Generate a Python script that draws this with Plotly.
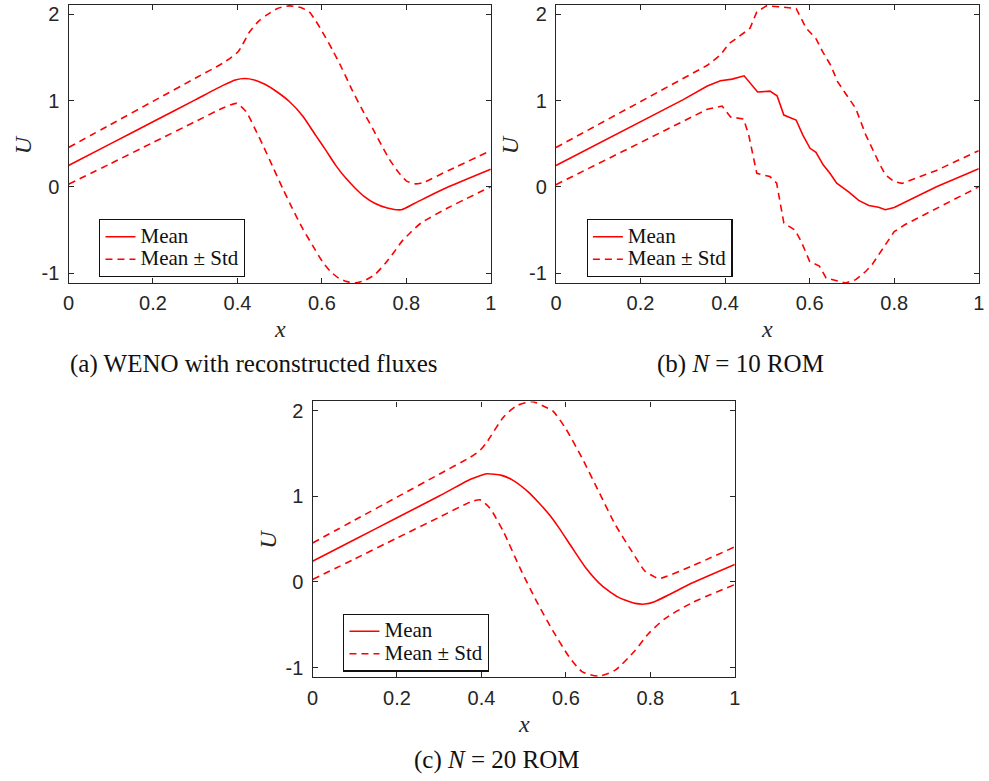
import plotly.graph_objects as go

# ---------------- data ----------------
# (a) WENO with reconstructed fluxes
xa_mean = [0, 0.1, 0.2, 0.3, 0.367, 0.395, 0.4175, 0.44, 0.465, 0.49, 0.523, 0.555, 0.585, 0.61, 0.632,
           0.655, 0.679, 0.7, 0.725, 0.755, 0.788, 0.82, 0.9, 1.0]
ya_mean = [0.247, 0.501, 0.755, 1.009, 1.18, 1.24, 1.257, 1.24, 1.19, 1.115, 0.99, 0.82, 0.60, 0.42, 0.255,
           0.11, -0.016, -0.11, -0.19, -0.245, -0.266, -0.19, 0.0, 0.205]
xa_up = [0, 0.1, 0.2, 0.3, 0.367, 0.402, 0.429, 0.45, 0.468, 0.495, 0.523, 0.55, 0.57, 0.585, 0.601,
         0.625, 0.648, 0.67, 0.694, 0.72, 0.741, 0.76, 0.78, 0.8, 0.82, 0.84, 0.9, 1.0]
ya_up = [0.456, 0.724, 0.992, 1.26, 1.44, 1.57, 1.80, 1.92, 1.99, 2.07, 2.10, 2.08, 2.03, 1.93, 1.80,
         1.59, 1.37, 1.14, 0.91, 0.68, 0.486, 0.32, 0.177, 0.07, 0.035, 0.05, 0.19, 0.42]
xa_lo = [0, 0.1, 0.2, 0.3, 0.367, 0.398, 0.421, 0.44, 0.46, 0.485, 0.507, 0.53, 0.554, 0.578, 0.601,
         0.62, 0.64, 0.66, 0.679, 0.7, 0.725, 0.75, 0.772, 0.79, 0.81, 0.835, 0.9, 1.0]
ya_lo = [0.03, 0.27, 0.514, 0.756, 0.918, 0.968, 0.87, 0.69, 0.486, 0.22, -0.016, -0.25, -0.48, -0.68,
         -0.865, -0.98, -1.06, -1.10, -1.115, -1.09, -1.02, -0.89, -0.75, -0.63, -0.53, -0.42, -0.24, 0.0]

# (b) N = 10 ROM
xb_mean = [0, 0.1, 0.2, 0.3, 0.358, 0.389, 0.417, 0.445, 0.477, 0.506, 0.523, 0.539, 0.568, 0.584,
           0.601, 0.615, 0.632, 0.648, 0.664, 0.693, 0.716, 0.74, 0.763, 0.779, 0.80, 0.9, 1.0]
yb_mean = [0.247, 0.50, 0.755, 1.009, 1.17, 1.23, 1.25, 1.288, 1.10, 1.11, 1.057, 0.833, 0.775, 0.60,
           0.447, 0.40, 0.255, 0.157, 0.042, -0.062, -0.158, -0.216, -0.236, -0.266, -0.24, 0.0, 0.21]
xb_up = [0, 0.1, 0.2, 0.3, 0.358, 0.389, 0.409, 0.432, 0.459, 0.475, 0.498, 0.526, 0.568, 0.592,
         0.615, 0.631, 0.65, 0.666, 0.693, 0.709, 0.733, 0.751, 0.763, 0.779, 0.80, 0.818, 0.9, 1.0]
yb_up = [0.456, 0.724, 0.992, 1.26, 1.41, 1.53, 1.66, 1.74, 1.84, 2.03, 2.10, 2.09, 2.07, 1.84,
         1.72, 1.566, 1.41, 1.22, 1.025, 0.91, 0.60, 0.41, 0.29, 0.14, 0.06, 0.04, 0.19, 0.42]
xb_lo = [0, 0.1, 0.2, 0.3, 0.358, 0.393, 0.413, 0.444, 0.456, 0.475, 0.506, 0.522, 0.529, 0.539,
         0.565, 0.58, 0.6, 0.623, 0.639, 0.662, 0.685, 0.709, 0.733, 0.748, 0.763, 0.779, 0.80, 0.825,
         0.9, 1.0]
yb_lo = [0.025, 0.27, 0.514, 0.756, 0.90, 0.937, 0.81, 0.787, 0.60, 0.157, 0.119, 0.042, -0.17, -0.42,
         -0.50, -0.633, -0.865, -0.92, -1.058, -1.088, -1.115, -1.077, -0.98, -0.90, -0.787, -0.67,
         -0.52, -0.44, -0.25, 0.0]

# (c) N = 20 ROM
xc_mean = [0, 0.1, 0.2, 0.3, 0.374, 0.395, 0.413, 0.448, 0.475, 0.51, 0.537, 0.561, 0.584, 0.615,
           0.647, 0.686, 0.725, 0.764, 0.787, 0.81, 0.9, 1.0]
yc_mean = [0.243, 0.497, 0.751, 1.005, 1.20, 1.24, 1.265, 1.246, 1.188, 1.056, 0.92, 0.785, 0.63, 0.40,
           0.167, -0.046, -0.18, -0.25, -0.258, -0.23, -0.01, 0.205]
xc_up = [0, 0.1, 0.2, 0.3, 0.374, 0.397, 0.413, 0.452, 0.483, 0.522, 0.545, 0.569, 0.60, 0.639,
         0.678, 0.717, 0.756, 0.787, 0.81, 0.822, 0.9, 1.0]
yc_up = [0.456, 0.724, 0.992, 1.26, 1.46, 1.54, 1.636, 1.926, 2.06, 2.108, 2.06, 2.0, 1.79, 1.443,
         1.056, 0.67, 0.36, 0.128, 0.06, 0.04, 0.19, 0.41]
xc_lo = [0, 0.1, 0.2, 0.3, 0.374, 0.397, 0.42, 0.452, 0.491, 0.53, 0.569, 0.608, 0.639, 0.678,
         0.717, 0.764, 0.795, 0.834, 0.9, 1.0]
yc_lo = [0.03, 0.27, 0.514, 0.756, 0.935, 0.96, 0.863, 0.59, 0.167, -0.22, -0.568, -0.877, -1.05,
         -1.10, -1.03, -0.80, -0.607, -0.43, -0.24, -0.03]

x_ticks = [0, 0.2, 0.4, 0.6, 0.8, 1]
x_ticktext = ["0", "0.2", "0.4", "0.6", "0.8", "1"]
y_ticks = [-1, 0, 1, 2]
y_ticktext = ["-1", "0", "1", "2"]

captions = ["(a) WENO with reconstructed fluxes", "(b) <i>N</i> = 10 ROM", "(c) <i>N</i> = 20 ROM"]
legend_names = ["Mean", "Mean ± Std"]

# ---------------- figure ----------------
W, H = 989, 781
RED = "#ff0000"
AX = "#262626"
SANS = "Liberation Sans, Arial, sans-serif"
SERIF = "Liberation Serif, Times New Roman, serif"

panels = [
    dict(x0=63.3, x1=490.7, y0=3, y1=282, data=(xa_mean, ya_mean, xa_up, ya_up, xa_lo, ya_lo), shape="spline",
         cap=(250.7, 363), xl=(277, 328), ul=(18, 143)),
    dict(x0=556.7, x1=984.7, y0=3, y1=282, data=(xb_mean, yb_mean, xb_up, yb_up, xb_lo, yb_lo), shape="linear",
         cap=(744, 363), xl=(770, 328), ul=(511, 143)),
    dict(x0=310.3, x1=737.7, y0=401, y1=678, data=(xc_mean, yc_mean, xc_up, yc_up, xc_lo, yc_lo), shape="spline",
         cap=(497.5, 761), xl=(524, 725), ul=(265, 539)),
]


def big(s):
    return "<span style='font-size:21px'>" + s + "</span>"


fig = go.Figure()
layout = dict(width=W, height=H, margin=dict(l=0, r=0, t=0, b=0),
              paper_bgcolor="white", plot_bgcolor="white", showlegend=True, annotations=[])

YR = [-1.115, 2.11]
DASH = "7px,5px"
for i, p in enumerate(panels):
    n = "" if i == 0 else str(i + 1)
    xm, ym, xu, yu, xlo, ylo = p["data"]
    lg = "legend" + n
    line_kw = dict(shape=p["shape"], smoothing=0.6) if p["shape"] == "spline" else dict(shape="linear")
    fig.add_trace(go.Scatter(x=xm, y=ym, mode="lines", name=big(legend_names[0]), legend=lg,
                             line=dict(color=RED, width=1.6, **line_kw), xaxis="x" + n, yaxis="y" + n))
    fig.add_trace(go.Scatter(x=xu, y=yu, mode="lines", name=big(legend_names[1]), legend=lg,
                             legendgroup="std" + n,
                             line=dict(color=RED, width=1.6, dash=DASH, **line_kw),
                             xaxis="x" + n, yaxis="y" + n))
    fig.add_trace(go.Scatter(x=xlo, y=ylo, mode="lines", name=big(legend_names[1]), legend=lg,
                             legendgroup="std" + n, showlegend=False,
                             line=dict(color=RED, width=1.6, dash=DASH, **line_kw),
                             xaxis="x" + n, yaxis="y" + n))
    common = dict(showline=True, linecolor=AX, linewidth=1.3, mirror="ticks", ticks="inside",
                  ticklen=5, tickcolor=AX, tickwidth=1, showgrid=False, zeroline=False,
                  tickfont=dict(family=SANS, size=20, color=AX))
    layout["xaxis" + n] = dict(domain=[p["x0"] / W, p["x1"] / W], range=[0, 1], anchor="y" + n,
                               tickvals=x_ticks, ticktext=x_ticktext, ticklabelstandoff=2, **common)
    layout["yaxis" + n] = dict(domain=[1 - p["y1"] / H, 1 - p["y0"] / H], range=YR, anchor="x" + n,
                               tickvals=y_ticks, ticktext=y_ticktext, ticklabelstandoff=4, **common)
    # legend in lower-left corner of axes
    lx = p["x0"] + 31
    ly = p["y1"] - 64
    layout[lg] = dict(x=lx / W, y=1 - ly / H, xanchor="left", yanchor="top",
                      bgcolor="white", bordercolor="#111111", borderwidth=1.3,
                      font=dict(family=SERIF, size=15, color="#111111"),
                      tracegroupgap=0, itemwidth=30)
    layout["annotations"] += [
        dict(text=captions[i], x=p["cap"][0] / W, y=1 - p["cap"][1] / H, xref="paper", yref="paper",
             showarrow=False, xanchor="center", yanchor="middle",
             font=dict(family=SERIF, size=25, color="#111111")),
        dict(text="<i>x</i>", x=p["xl"][0] / W, y=1 - p["xl"][1] / H, xref="paper", yref="paper",
             showarrow=False, xanchor="center", yanchor="middle",
             font=dict(family=SERIF, size=24, color=AX)),
        dict(text="<i>U</i>", x=p["ul"][0] / W, y=1 - p["ul"][1] / H, xref="paper", yref="paper",
             showarrow=False, xanchor="center", yanchor="middle", textangle=-90,
             font=dict(family=SERIF, size=24, color=AX)),
    ]

fig.update_layout(**layout)
fig.write_html("out.html")
